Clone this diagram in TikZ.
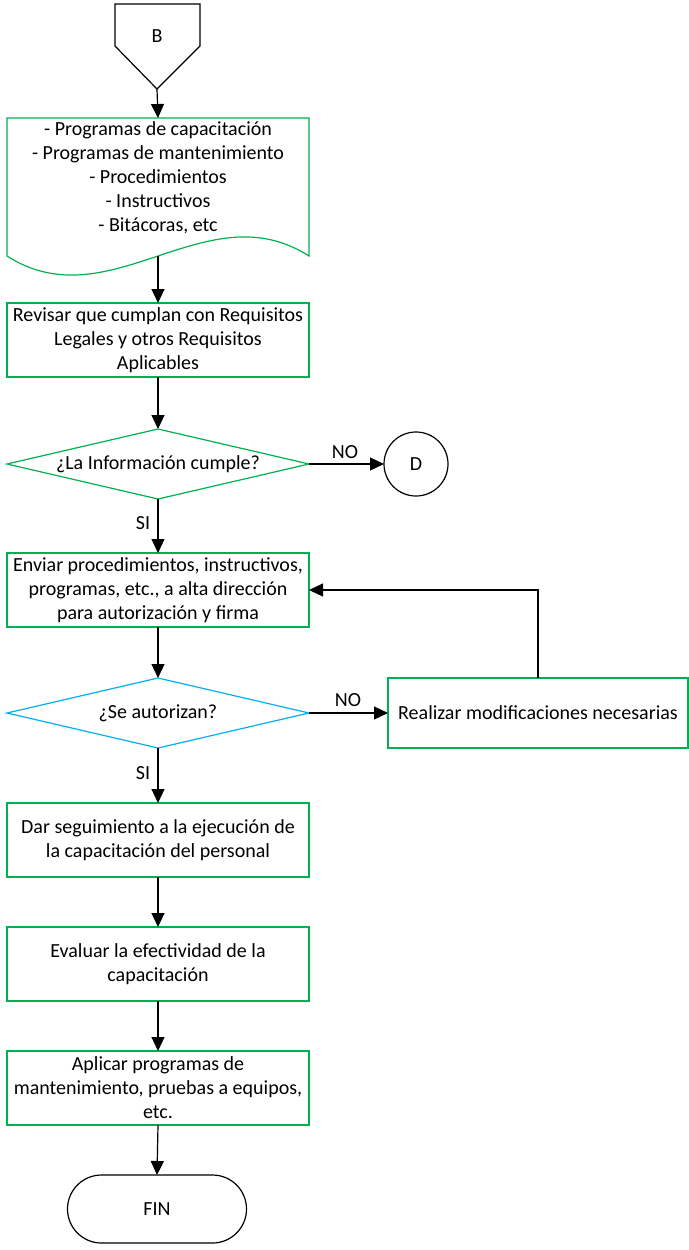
\documentclass[tikz,border=0pt]{standalone}
\usepackage{fontspec}
\setmainfont{Carlito}
\usetikzlibrary{shapes.geometric,shapes.misc,arrows.meta}
\definecolor{stepgreen}{RGB}{0,176,80}
\definecolor{askblue}{RGB}{0,176,240}
\begin{document}
\begin{tikzpicture}[x=1pt,y=-1pt,
  font=\fontsize{20}{24}\selectfont,
  line width=1.2pt,
  flow/.style={-{Triangle[length=14pt,width=13pt]}},
  procbox/.style={draw=stepgreen,rectangle,minimum width=302pt,minimum height=74pt,
    align=center,inner sep=2pt,outer sep=0pt},
  askgreen/.style={draw=stepgreen,diamond,minimum width=302pt,minimum height=70pt,
    inner sep=0pt,outer sep=0pt},
  askblue/.style={draw=askblue,diamond,minimum width=302pt,minimum height=70pt,
    inner sep=0pt,outer sep=0pt},
  edgelabel/.style={inner sep=0pt}]
\useasboundingbox (0,0) rectangle (688,1250);

% off-page connector B
\draw (115,4) -- (200,4) -- (200,46) -- (157,89) -- (115,46) -- cycle;
\node (B) at (157,36) {B};
\coordinate (Btip) at (157,89);

% document shape with wavy bottom
\draw[stepgreen] (7,256) -- (7,118) -- (309,118) -- (309,256)
  .. controls (206,190) and (110,322) .. (7,256);
\node[minimum width=302pt,minimum height=138pt,inner sep=0pt,outer sep=0pt]
  (doc) at (158,187) {};
\node[align=center] (doctext) at (158,178)
  {- Programas de capacitación\\- Programas de mantenimiento\\- Procedimientos\\- Instructivos\\- Bitácoras, etc};

\node[procbox] (rev) at (158,340)
  {Revisar que cumplan con Requisitos\\Legales y otros Requisitos\\Aplicables};
\node[askgreen] (q1) at (158,464) {};
\node (q1text) at (q1.center) {¿La Información cumple?};
\node[draw,circle,minimum size=64pt,inner sep=0pt,outer sep=0pt] (D) at (416,464) {D};
\node[procbox] (env) at (158,590)
  {Enviar procedimientos, instructivos,\\programas, etc., a alta dirección\\para autorización y firma};
\node[askblue] (q2) at (158,713) {};
\node (q2text) at (q2.center) {¿Se autorizan?};
\node[procbox,minimum width=300pt,minimum height=70pt] (mod) at (538,713)
  {Realizar modificaciones necesarias};
\node[procbox] (seg) at (158,840)
  {Dar seguimiento a la ejecución de\\la capacitación del personal};
\node[procbox] (eva) at (158,964)
  {Evaluar la efectividad de la\\capacitación};
\node[procbox] (apl) at (158,1088)
  {Aplicar programas de\\mantenimiento, pruebas a equipos,\\etc.};
\node[draw,rounded rectangle,minimum width=179pt,minimum height=68pt,inner sep=0pt,outer sep=0pt]
  (fin) at (157,1209) {FIN};

% connectors
\draw[flow] (Btip) -- (doc.north);
\draw[flow] (doc.south) -- (rev.north);
\draw[flow] (rev.south) -- (q1.north);
\draw[flow] (q1.east) -- (D.west);
\draw[flow] (q1.south) -- (env.north);
\draw[flow] (env.south) -- (q2.north);
\draw[flow] (q2.east) -- (mod.west);
\draw[flow] (mod.north) |- (env.east);
\draw[flow] (q2.south) -- (seg.north);
\draw[flow] (seg.south) -- (eva.north);
\draw[flow] (eva.south) -- (apl.north);
\draw[flow] (apl.south) -- (fin.north);

% branch labels
\node[edgelabel] (no1) at (345,452) {NO};
\node[edgelabel] (si1) at (143,523) {SI};
\node[edgelabel] (no2) at (348,700) {NO};
\node[edgelabel] (si2) at (143,773) {SI};
\end{tikzpicture}
\end{document}
